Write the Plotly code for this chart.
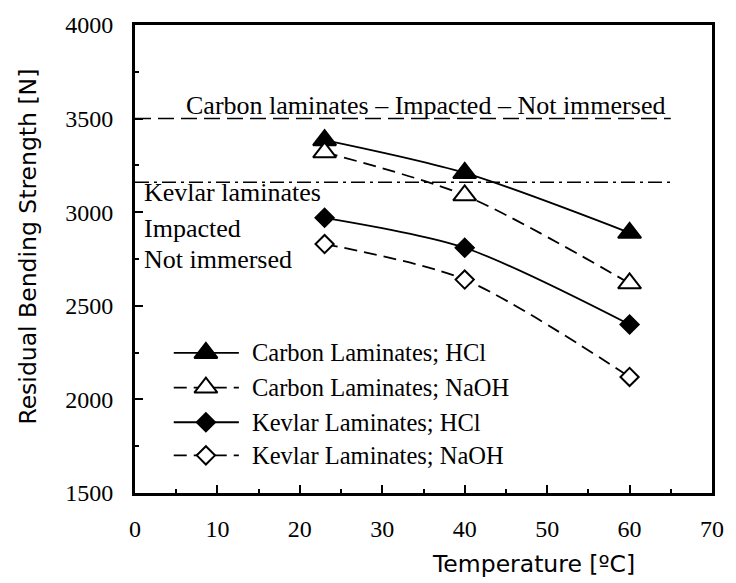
import plotly.graph_objects as go

# ---- data ----
temps = [23, 40, 60]
carbon_hcl = [3385, 3210, 2890]
carbon_naoh = [3320, 3090, 2620]
kevlar_hcl = [2970, 2810, 2400]
kevlar_naoh = [2830, 2640, 2120]
series_names = ["Carbon Laminates; HCl", "Carbon Laminates; NaOH",
                "Kevlar Laminates; HCl", "Kevlar Laminates; NaOH"]
carbon_ref = 3500   # Carbon laminates - Impacted - Not immersed
kevlar_ref = 3160   # Kevlar laminates - Impacted - Not immersed
ref_x = [0, 65]
x_ticks = [0, 10, 20, 30, 40, 50, 60, 70]
y_ticks = [1500, 2000, 2500, 3000, 3500, 4000]

SERIF = "Liberation Serif, Times New Roman, serif"
SANS = "DejaVu Sans, Verdana, sans-serif"
DASH = "13px,7px"

styles = [
    dict(symbol="triangle-up", fill="black", dash="solid", size=20),
    dict(symbol="triangle-up", fill="white", dash=DASH, size=20),
    dict(symbol="diamond", fill="black", dash="solid", size=14),
    dict(symbol="diamond", fill="white", dash=DASH, size=14),
]
values = [carbon_hcl, carbon_naoh, kevlar_hcl, kevlar_naoh]

fig = go.Figure()

# reference lines
fig.add_trace(go.Scatter(x=ref_x, y=[carbon_ref, carbon_ref], mode="lines",
                         line=dict(color="black", width=1.5, dash="16px,7px"),
                         showlegend=False, hoverinfo="skip"))
fig.add_trace(go.Scatter(x=ref_x, y=[kevlar_ref, kevlar_ref], mode="lines",
                         line=dict(color="black", width=1.5, dash="14px,5px,3px,5px"),
                         showlegend=False, hoverinfo="skip"))

for name, vals, st in zip(series_names, values, styles):
    fig.add_trace(go.Scatter(
        x=temps, y=vals, mode="lines+markers", name=name,
        line=dict(color="black", width=1.8, dash=st["dash"], shape="spline", smoothing=0.8),
        marker=dict(symbol=st["symbol"], size=st["size"], color=st["fill"],
                    line=dict(color="black", width=2)),
        showlegend=False))

# custom legend (layout positions in axis units)
leg_x0, leg_xm, leg_x1, leg_xt = 4.7, 8.6, 12.6, 14.0
leg_rows = [2248, 2063, 1878, 1701]
for name, st, ly in zip(series_names, styles, leg_rows):
    fig.add_trace(go.Scatter(x=[leg_x0, leg_x1], y=[ly, ly], mode="lines",
                             line=dict(color="black", width=1.8, dash=st["dash"]),
                             showlegend=False, hoverinfo="skip"))
    fig.add_trace(go.Scatter(x=[leg_xm], y=[ly], mode="markers",
                             marker=dict(symbol=st["symbol"], size=st["size"], color=st["fill"],
                                         line=dict(color="black", width=2)),
                             showlegend=False, hoverinfo="skip"))
    fig.add_annotation(x=leg_xt, y=ly, text=name, showarrow=False, xanchor="left",
                       yanchor="middle", font=dict(family=SERIF, size=24.5, color="black"))

# text annotations
fig.add_annotation(x=35.2, y=3570, text="Carbon laminates \u2013 Impacted \u2013 Not immersed",
                   showarrow=False, xanchor="center", yanchor="middle",
                   font=dict(family=SERIF, size=26, color="black"))
for txt, ty in zip(["Kevlar laminates", "Impacted", "Not immersed"], [3105, 2915, 2748]):
    fig.add_annotation(x=0.9, y=ty, text=txt, showarrow=False, xanchor="left",
                       yanchor="middle", font=dict(family=SERIF, size=26, color="black"))

# axis titles
fig.add_annotation(xref="paper", yref="paper", x=-0.185, y=0.527,
                   text="Residual Bending Strength [N]", textangle=-90, showarrow=False,
                   xanchor="center", yanchor="middle",
                   font=dict(family=SANS, size=23.5, color="black"))
fig.add_annotation(xref="paper", yref="paper", x=0.69, y=-0.152,
                   text="Temperature [\u00baC]", showarrow=False,
                   xanchor="center", yanchor="middle",
                   font=dict(family=SANS, size=23.5, color="black"))

fig.update_layout(
    width=736, height=583,
    margin=dict(l=135, r=18, t=21, b=90),
    plot_bgcolor="white", paper_bgcolor="white",
    showlegend=False,
    xaxis=dict(range=[0, 70], tickvals=x_ticks, ticks="inside", ticklen=8, tickwidth=2,
               tickcolor="black", showline=True, linewidth=3, linecolor="black", mirror=True,
               showgrid=False, zeroline=False, ticklabelstandoff=12,
               tickfont=dict(family=SERIF, size=24, color="black"),
               minor=dict(ticks="inside", ticklen=4, tickwidth=2, tickcolor="black", dtick=5)),
    yaxis=dict(range=[1500, 4000], tickvals=y_ticks, ticks="inside", ticklen=8, tickwidth=2,
               tickcolor="black", showline=True, linewidth=3, linecolor="black", mirror=True,
               showgrid=False, zeroline=False, ticklabelstandoff=14,
               tickfont=dict(family=SERIF, size=24, color="black"),
               minor=dict(ticks="inside", ticklen=4, tickwidth=2, tickcolor="black", dtick=250)),
)

fig.write_html("out.html")
